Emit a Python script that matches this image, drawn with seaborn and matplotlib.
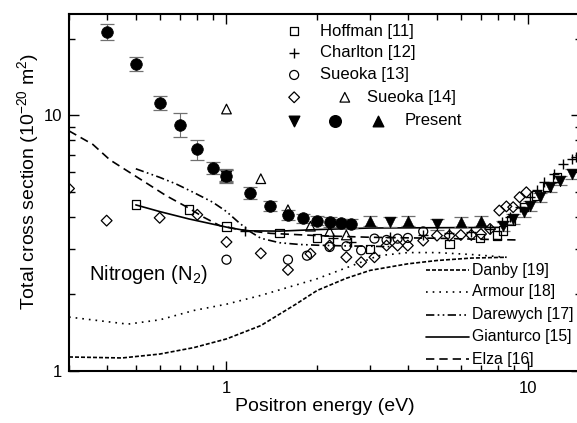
import numpy as np
import pandas as pd
import matplotlib
matplotlib.use("Agg")
import matplotlib.pyplot as plt
import seaborn as sns
from matplotlib.ticker import LogLocator, FuncFormatter, NullFormatter

# ---------------- data ----------------
present_circle_e = [0.4, 0.5, 0.6, 0.7, 0.8, 0.9, 1.0, 1.2, 1.4, 1.6, 1.8, 2.0, 2.2, 2.4, 2.6]
present_circle_q = [21.3, 15.9, 11.2, 9.2, 7.36, 6.22, 5.78, 4.97, 4.42, 4.08, 3.96, 3.87, 3.83, 3.79, 3.76]
present_circle_err = [1.5, 1.0, 0.7, 1.0, 0.65, 0.35, 0.35, 0.25, 0.2, 0.18, 0.16, 0.16, 0.16, 0.15, 0.15]

present_up_e = [1.0, 3.0, 4.0, 6.0, 7.0]
present_up_q = [5.85, 3.87, 3.87, 3.82, 3.85]
present_up_err = [0.3, 0.17, 0.17, 0.17, 0.17]

present_down_e = [1.0, 3.5, 5.0, 8.3, 8.95, 9.7, 10.2, 11.0, 11.9, 12.8, 14.0]
present_down_q = [5.8, 3.82, 3.74, 3.70, 3.93, 4.17, 4.43, 4.78, 5.24, 5.55, 5.9]
present_down_err = [0.3, 0.17, 0.17, 0.17, 0.18, 0.18, 0.19, 0.2, 0.22, 0.23, 0.25]

hoffman_e = [0.5, 0.75, 1.0, 1.5, 2.0, 3.0, 5.5, 6.94, 7.9, 8.3, 8.8, 9.7, 10.7, 11.6, 12.5]
hoffman_q = [4.48, 4.28, 3.67, 3.47, 3.31, 3.0, 3.14, 3.31, 3.38, 3.54, 3.87, 4.37, 4.85, 5.24, 5.72]

charlton_e = [1.15, 2.25, 2.6, 3.5, 4.5, 5.5, 6.5, 7.5, 8.2, 8.75, 9.4, 10.2, 10.7, 11.3, 12.2, 13.1, 14.0, 14.5]
charlton_q = [3.51, 3.32, 3.19, 3.35, 3.4, 3.45, 3.5, 3.6, 3.82, 3.99, 4.37, 4.78, 5.08, 5.47, 5.9, 6.45, 6.76, 6.9]

sueoka13_e = [1.0, 1.6, 1.85, 2.2, 2.5, 2.8, 3.1, 3.4, 3.7, 4.0, 4.5]
sueoka13_q = [2.72, 2.72, 2.82, 3.05, 3.07, 2.96, 3.29, 3.25, 3.29, 3.31, 3.51]

sueoka14_diam_e = [0.3, 0.4, 0.6, 0.8, 1.0, 1.3, 1.6, 1.9, 2.2, 2.5, 2.8, 3.1, 3.4, 3.7, 4.0, 4.5,
                   5.0, 5.5, 6.0, 6.5, 7.0, 7.5, 8.05, 8.5, 8.95, 9.4, 9.9]
sueoka14_diam_q = [5.17, 3.87, 3.97, 4.08, 3.19, 2.88, 2.48, 2.87, 3.09, 2.78, 2.66, 2.78, 3.09, 3.09, 3.09, 3.23,
                   3.38, 3.38, 3.40, 3.40, 3.43, 3.59, 4.24, 4.4, 4.37, 4.78, 5.0]

sueoka14_tri_e = [1.0, 1.3, 1.6, 1.9, 2.2, 2.5]
sueoka14_tri_q = [10.6, 5.65, 4.27, 3.68, 3.51, 3.40]

danby_e = [0.3, 0.45, 0.6, 0.78, 1.0, 1.3, 1.7, 2.0, 2.5, 3.0, 4.0, 5.0, 6.5, 8.5]
danby_q = [1.13, 1.12, 1.16, 1.23, 1.33, 1.5, 1.82, 2.06, 2.3, 2.47, 2.62, 2.7, 2.76, 2.78]

armour_e = [0.3, 0.47, 0.6, 0.78, 1.0, 1.3, 2.0, 2.9, 3.2, 4.0, 5.0, 6.5, 8.5]
armour_q = [1.62, 1.52, 1.58, 1.72, 1.82, 1.97, 2.29, 2.7, 2.82, 2.9, 2.9, 2.85, 2.78]

darewych_e = [0.5, 0.6, 0.68, 0.775, 0.9, 1.0, 1.1, 1.2, 1.3, 1.5, 1.75, 2.0, 2.5, 3.0, 3.5]
darewych_q = [6.18, 5.72, 5.39, 5.0, 4.57, 4.2, 3.8, 3.5, 3.3, 3.17, 3.12, 3.1, 3.08, 3.07, 3.06]

gianturco_e = [0.5, 0.6, 0.75, 1.0, 1.17, 1.5, 2.0, 3.0, 5.0, 8.0]
gianturco_q = [4.46, 4.2, 3.93, 3.65, 3.53, 3.52, 3.57, 3.62, 3.63, 3.64]

elza_e = [0.3, 0.36, 0.41, 0.54, 0.63, 0.74, 0.84, 0.95, 1.1, 1.4, 2.0, 3.0, 5.0, 7.0, 9.3]
elza_q = [8.7, 7.7, 6.7, 5.45, 4.85, 4.37, 3.99, 3.7, 3.57, 3.45, 3.38, 3.33, 3.3, 3.27, 3.25]

marker_labels = ["Hoffman [11]", "Charlton [12]", "Sueoka [13]", "Sueoka [14]", "Present"]
line_labels = ["Danby [19]", "Armour [18]", "Darewych [17]", "Gianturco [15]", "Elza [16]"]
annotation = "Nitrogen (N$_2$)"
xlabel = "Positron energy (eV)"
ylabel = "Total cross section (10$^{-20}$ m$^2$)"

# ---------------- style ----------------
sns.set_theme(style="ticks")
plt.rcParams['font.family'] = ['Liberation Sans', 'DejaVu Sans']
plt.rcParams['mathtext.default'] = 'regular'

fig = plt.figure(figsize=(5.77, 4.23), dpi=100)
ax = fig.add_axes([0.1196, 0.1241, 0.8868, 0.8428])
ax.set_xscale('log')
ax.set_yscale('log')

K = 'black'
LW = 1.2

# ---------------- theory curves ----------------
line_styles = {
    "Danby [19]": (0, (2.4, 1.2)),
    "Armour [18]": (0, (1.0, 3.0)),
    "Darewych [17]": (0, (5, 2, 1, 2, 1, 2)),
    "Gianturco [15]": '-',
    "Elza [16]": (0, (5, 3)),
}
curves = {
    "Danby [19]": (danby_e, danby_q),
    "Armour [18]": (armour_e, armour_q),
    "Darewych [17]": (darewych_e, darewych_q),
    "Gianturco [15]": (gianturco_e, gianturco_q),
    "Elza [16]": (elza_e, elza_q),
}
for name in line_labels:
    e, q = curves[name]
    df = pd.DataFrame({"E": e, "Q": q})
    sns.lineplot(data=df, x="E", y="Q", ax=ax, color=K, linewidth=LW,
                 linestyle=line_styles[name], sort=True, estimator=None, zorder=2)

# ---------------- error bars for present data ----------------
for e, q, err in [(present_circle_e, present_circle_q, present_circle_err),
                  (present_up_e, present_up_q, present_up_err),
                  (present_down_e, present_down_q, present_down_err)]:
    ax.errorbar(e, q, yerr=err, fmt='none', ecolor='#707070', elinewidth=0.8,
                capsize=5.2, capthick=0.9, zorder=3)

# ---------------- experimental points ----------------
def open_pts(e, q, marker, s, lw=0.9):
    sns.scatterplot(x=e, y=q, ax=ax, marker=marker, s=s, color=K,
                    facecolor='none', edgecolor=K, linewidth=lw, zorder=4)

open_pts(hoffman_e, hoffman_q, 's', 36)
sns.scatterplot(x=charlton_e, y=charlton_q, ax=ax, marker='+', s=55, color=K,
                linewidth=1.0, zorder=4)
open_pts(sueoka13_e, sueoka13_q, 'o', 42)
open_pts(sueoka14_diam_e, sueoka14_diam_q, 'D', 30)
open_pts(sueoka14_tri_e, sueoka14_tri_q, '^', 48)

sns.scatterplot(x=present_circle_e, y=present_circle_q, ax=ax, marker='o', s=70,
                color=K, edgecolor=K, linewidth=0.5, zorder=5)
sns.scatterplot(x=present_up_e, y=present_up_q, ax=ax, marker='^', s=58,
                color=K, edgecolor=K, linewidth=0.5, zorder=5)
sns.scatterplot(x=present_down_e, y=present_down_q, ax=ax, marker='v', s=58,
                color=K, edgecolor=K, linewidth=0.5, zorder=5)

# ---------------- axes ----------------
ax.set_xlim(0.3, 15)
ax.set_ylim(1, 25)
fmt = FuncFormatter(lambda v, p: '%g' % v)
for axis in (ax.xaxis, ax.yaxis):
    axis.set_major_locator(LogLocator(base=10))
    axis.set_minor_locator(LogLocator(base=10, subs=np.arange(2, 10)))
    axis.set_major_formatter(fmt)
    axis.set_minor_formatter(NullFormatter())
ax.tick_params(which='both', direction='in', top=True, right=True, colors=K,
               labelsize=12, width=1.0)
ax.tick_params(which='major', length=7)
ax.tick_params(which='minor', length=4)
ax.tick_params(axis='x', which='major', pad=7.5)
ax.tick_params(axis='y', which='major', pad=5)
for sp in ax.spines.values():
    sp.set_linewidth(1.5)
    sp.set_color(K)

ax.set_xlabel(xlabel, fontsize=14, color=K)
ax.set_ylabel(ylabel, fontsize=14, color=K)
ax.xaxis.set_label_coords(0.5, -0.076)
ax.yaxis.set_label_coords(-0.055, 0.53)

ax.text(0.040, 0.268, annotation, transform=ax.transAxes, fontsize=14.5,
        va='center', ha='left', color=K)

# ---------------- marker legend (upper) ----------------
tA = ax.transAxes
rows_y = [0.9523, 0.8915, 0.829, 0.7664, 0.7007]
mx = 0.440
leg_kw = dict(transform=tA, clip_on=False, zorder=6)
ax.scatter([mx], [rows_y[0]], marker='s', s=36, facecolor='none', edgecolor=K, linewidth=0.9, **leg_kw)
ax.scatter([mx], [rows_y[1]], marker='+', s=55, color=K, linewidth=1.0, **leg_kw)
ax.scatter([mx], [rows_y[2]], marker='o', s=42, facecolor='none', edgecolor=K, linewidth=0.9, **leg_kw)
ax.scatter([mx], [rows_y[3]], marker='D', s=30, facecolor='none', edgecolor=K, linewidth=0.9, **leg_kw)
ax.scatter([0.539], [rows_y[3]], marker='^', s=48, facecolor='none', edgecolor=K, linewidth=0.9, **leg_kw)
ax.scatter([mx], [rows_y[4]], marker='v', s=58, color=K, **leg_kw)
ax.scatter([0.520], [rows_y[4]], marker='o', s=70, color=K, **leg_kw)
ax.scatter([0.604], [rows_y[4]], marker='^', s=58, color=K, **leg_kw)
text_x = [0.4905, 0.4905, 0.4905, 0.582, 0.655]
for lab, tx, ty in zip(marker_labels, text_x, rows_y):
    ax.text(tx, ty, lab, transform=tA, fontsize=12, va='center', ha='left', color=K)

# ---------------- line legend (lower right) ----------------
lrows = [0.2819, 0.221, 0.1557, 0.0948, 0.0314]
for lab, ty in zip(line_labels, lrows):
    ax.plot([0.697, 0.782], [ty, ty], transform=tA, color=K, linewidth=LW,
            linestyle=line_styles[lab], zorder=6)
    ax.text(0.787, ty, lab, transform=tA, fontsize=11.4, va='center', ha='left', color=K)

fig.savefig("out.png", dpi=100)
